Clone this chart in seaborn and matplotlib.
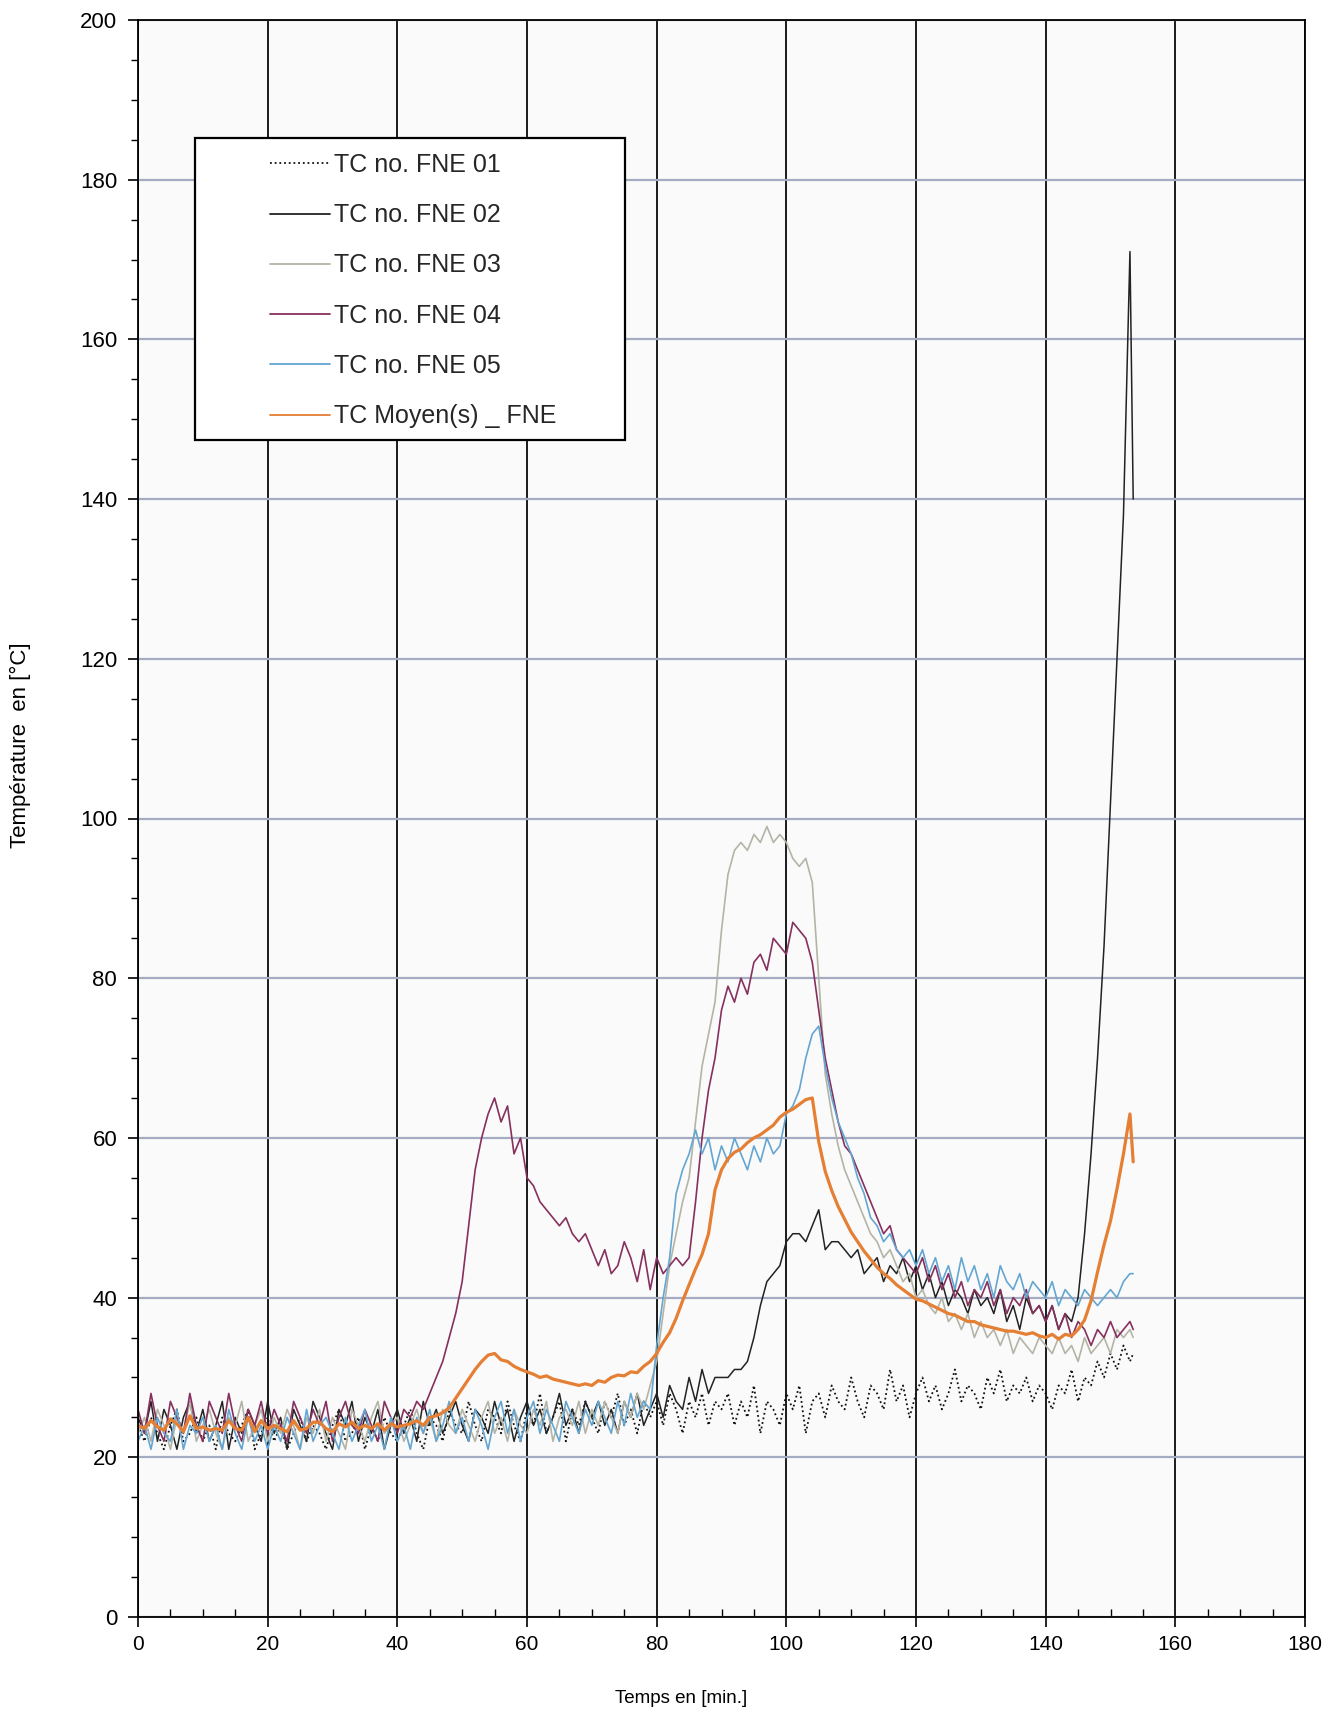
import numpy as np
import pandas as pd
import matplotlib
matplotlib.use("Agg")
import matplotlib.pyplot as plt
from matplotlib.patches import Rectangle
from matplotlib import font_manager
import seaborn as sns

# ---------------- data ----------------
time_min = list(range(0, 154)) + [153.5]

tc01 = [24, 22, 25, 23, 21, 24, 26, 22, 23, 25,
        22, 24, 21, 25, 23, 22, 24, 26, 21, 23,
        25, 22, 24, 21, 23, 25, 22, 24, 23, 21,
        24, 26, 22, 23, 25, 21, 24, 22, 25, 23,
        22, 24, 26, 23, 21, 25, 24, 22, 26, 24,
        23, 27, 24, 22, 26, 25, 23, 27, 24, 22,
        26, 24, 28, 23, 25, 27, 22, 26, 24, 27,
        25, 23, 27, 25, 28, 24, 26, 23, 27, 25,
        27, 24, 28, 26, 23, 27, 25, 28, 24, 27,
        26, 28, 24, 27, 25, 29, 23, 27, 26, 24,
        28, 26, 29, 23, 27, 28, 25, 29, 27, 26,
        30, 27, 25, 29, 28, 26, 31, 27, 29, 25,
        28, 30, 27, 29, 26, 28, 31, 27, 29, 28,
        26, 30, 28, 31, 27, 29, 28, 30, 27, 29,
        28, 26, 29, 28, 31, 27, 30, 29, 32, 30,
        33, 31, 34, 32, 33]

tc02 = [25, 23, 27, 22, 26, 24, 21, 25, 27, 23,
        26, 22, 24, 27, 21, 25, 23, 26, 24, 22,
        27, 23, 25, 21, 26, 24, 22, 27, 25, 23,
        21, 26, 24, 27, 22, 25, 23, 26, 21, 24,
        26, 23, 25, 22, 27, 24, 26, 23, 25, 27,
        24, 22, 26, 25, 23, 27, 24, 26, 22, 25,
        27, 24, 26, 23, 25, 28, 24, 26, 23, 27,
        25, 27, 24, 26, 23, 27, 25, 28, 24, 26,
        28, 25, 29, 27, 26, 30, 27, 31, 28, 30,
        30, 30, 31, 31, 32, 35, 39, 42, 43, 44,
        47, 48, 48, 47, 49, 51, 46, 47, 47, 46,
        45, 46, 43, 44, 45, 42, 44, 43, 45, 42,
        44, 41, 43, 40, 42, 39, 41, 40, 38, 41,
        39, 40, 38, 41, 37, 39, 36, 40, 38, 39,
        37, 39, 36, 38, 37, 40, 48, 58, 70, 84,
        102, 120, 138, 171, 140]

tc03 = [23, 25, 22, 26, 24, 21, 25, 23, 27, 22,
        24, 26, 23, 21, 25, 24, 27, 22, 24, 26,
        22, 25, 23, 26, 24, 21, 25, 23, 26, 22,
        25, 23, 21, 26, 24, 22, 25, 27, 23, 24,
        25, 22, 24, 26, 23, 25, 22, 26, 24, 23,
        26, 24, 22, 25, 27, 23, 25, 22, 26, 24,
        23, 26, 24, 27, 22, 25, 26, 24, 27, 23,
        26, 24, 27, 25, 23, 27, 25, 28, 26, 29,
        32, 38, 44, 48, 52, 55, 62, 69, 73, 77,
        86, 93, 96, 97, 96, 98, 97, 99, 97, 98,
        97, 95, 94, 95, 92, 80, 68, 63, 59, 56,
        54, 52, 50, 48, 47, 45, 46, 44, 42, 43,
        40, 41, 39, 38, 40, 37, 38, 36, 38, 35,
        37, 35, 36, 34, 36, 33, 35, 34, 33, 35,
        34, 33, 35, 33, 34, 32, 35, 33, 34, 35,
        33, 36, 35, 36, 35]

tc04 = [26, 23, 28, 24, 22, 27, 25, 23, 28, 24,
        22, 27, 25, 23, 28, 24, 22, 26, 24, 27,
        23, 26, 24, 22, 27, 25, 23, 26, 24, 27,
        22, 25, 27, 24, 23, 26, 24, 22, 27, 25,
        23, 26, 25, 27, 26, 28, 30, 32, 35, 38,
        42, 49, 56, 60, 63, 65, 62, 64, 58, 60,
        55, 54, 52, 51, 50, 49, 50, 48, 47, 48,
        46, 44, 46, 43, 44, 47, 45, 42, 46, 41,
        45, 43, 44, 45, 44, 45, 52, 60, 66, 70,
        76, 79, 77, 80, 78, 82, 83, 81, 85, 84,
        83, 87, 86, 85, 82, 76, 70, 66, 62, 59,
        58, 56, 54, 52, 50, 48, 49, 46, 45, 44,
        43, 45, 42, 44, 41, 43, 40, 42, 39, 41,
        40, 42, 39, 41, 38, 40, 39, 41, 38, 39,
        37, 39, 36, 38, 35, 37, 36, 34, 36, 35,
        37, 35, 36, 37, 36]

tc05 = [22, 24, 21, 25, 23, 22, 26, 21, 24, 23,
        25, 22, 24, 21, 26, 23, 21, 25, 22, 24,
        21, 24, 22, 25, 23, 21, 26, 22, 24, 25,
        23, 21, 25, 22, 24, 26, 22, 24, 21, 25,
        22, 24, 21, 25, 23, 26, 22, 24, 27, 23,
        25, 22, 26, 24, 21, 25, 27, 23, 26, 22,
        25, 27, 23, 26, 24, 22, 27, 25, 23, 26,
        24, 27, 25, 23, 27, 24, 28, 25, 27, 26,
        34, 40, 45, 53, 56, 58, 61, 58, 60, 56,
        59, 57, 60, 58, 56, 59, 57, 60, 58, 59,
        63, 64, 66, 70, 73, 74, 69, 65, 62, 60,
        58, 55, 53, 50, 49, 47, 48, 46, 45, 46,
        44, 46, 43, 45, 42, 44, 41, 45, 42, 44,
        41, 43, 40, 44, 42, 41, 43, 40, 42, 41,
        40, 42, 39, 41, 40, 39, 41, 40, 39, 40,
        41, 40, 42, 43, 43]

tc_mean = [24.0, 23.6, 24.6, 23.8, 23.4, 24.8, 24.2, 23.2, 25.2, 23.6,
           23.8, 23.4, 23.6, 23.4, 24.6, 23.6, 23.4, 25.0, 23.2, 24.6,
           23.6, 24.0, 23.6, 23.2, 24.6, 23.4, 23.6, 24.4, 24.4, 23.6,
           23.2, 24.2, 23.8, 24.4, 23.6, 24.0, 23.6, 24.2, 23.4, 24.2,
           23.8, 24.0, 24.2, 24.6, 24.0, 25.0, 25.2, 25.6, 26.2, 27.4,
           28.6, 29.8, 31.0, 32.0, 32.8, 33.0, 32.2, 32.0, 31.4, 31.0,
           30.7, 30.4, 30.0, 30.2, 29.8, 29.6, 29.4, 29.2, 29.0, 29.2,
           29.0, 29.6, 29.4, 30.0, 30.3, 30.2, 30.7, 30.6, 31.4, 32.0,
           33.0, 34.4, 35.6, 37.4, 39.6, 41.6, 43.6, 45.4, 48.0, 53.5,
           56.0, 57.4, 58.2, 58.6, 59.4, 60.0, 60.4, 61.0, 61.6, 62.6,
           63.2, 63.6, 64.2, 64.8, 65.0, 59.5, 55.8, 53.4, 51.4, 49.8,
           48.2, 47.0, 45.8, 44.8, 43.8, 43.0, 42.4, 41.6, 41.0, 40.4,
           39.8, 39.6, 39.2, 38.8, 38.4, 38.0, 37.8, 37.4, 37.0, 37.0,
           36.6, 36.4, 36.2, 36.0, 35.8, 35.8, 35.6, 35.4, 35.6, 35.2,
           35.0, 35.4, 34.8, 35.4, 35.2, 36.0, 37.2, 39.6, 43.2, 46.6,
           49.6, 53.6, 58.0, 63.0, 57.0]

labels = ["TC no. FNE 01", "TC no. FNE 02", "TC no. FNE 03",
          "TC no. FNE 04", "TC no. FNE 05", "TC Moyen(s) _ FNE"]
x_ticks = list(range(0, 181, 20))
y_ticks = list(range(0, 201, 20))

# ---------------- style ----------------
sns.set_theme(style="white")
plt.rcParams["font.family"] = ["Liberation Sans", "DejaVu Sans"]

installed = {f.name for f in font_manager.fontManager.ttflist}
has_narrow = "Liberation Sans Narrow" in installed
narrow = ["Liberation Sans Narrow", "Liberation Sans", "DejaVu Sans"] if has_narrow \
    else ["Liberation Sans", "DejaVu Sans"]
xtick_size = 17 if has_narrow else 15
xlabel_size = 16 if has_narrow else 13.5

fig = plt.figure(figsize=(13.42, 17.16), dpi=100)
ax = fig.add_axes([138 / 1342, 1 - 1617 / 1716, (1305 - 138) / 1342, (1617 - 20) / 1716])
ax.set_facecolor("#fafafa")

series = [tc01, tc02, tc03, tc04, tc05, tc_mean]
styles = [
    dict(color="#111111", lw=1.3, ls=(0, (1, 1.6))),
    dict(color="#222222", lw=1.1, ls="-"),
    dict(color="#b4b4a6", lw=1.2, ls="-"),
    dict(color="#86305e", lw=1.2, ls="-"),
    dict(color="#64a6d2", lw=1.2, ls="-"),
    dict(color="#e47f34", lw=2.3, ls="-"),
]

for vals, lab, st in zip(series, labels, styles):
    df = pd.DataFrame({"t": time_min, "T": vals})
    sns.lineplot(data=df, x="t", y="T", ax=ax, color=st["color"], linewidth=st["lw"],
                 linestyle=st["ls"], label=lab, sort=False, estimator=None, legend=False)

ax.set_xlim(0, 180)
ax.set_ylim(0, 200)
ax.set_xticks(x_ticks)
ax.set_yticks(y_ticks)
ax.set_xticks(np.arange(0, 181, 5), minor=True)
ax.set_yticks(np.arange(0, 201, 5), minor=True)

ax.set_axisbelow(True)
ax.xaxis.grid(True, which="major", color="#1a1a1a", lw=1.4)
ax.yaxis.grid(True, which="major", color="#a4abc2", lw=1.6)

for sp in ax.spines.values():
    sp.set_color("black")
    sp.set_linewidth(1.3)
    sp.set_visible(True)

ax.tick_params(axis="x", which="major", direction="out", length=7, width=1.2,
               pad=6, colors="black")
ax.tick_params(axis="x", which="minor", direction="in", length=6, width=1.0, colors="black")
ax.tick_params(axis="y", which="major", direction="out", length=7, width=1.2,
               labelsize=16, pad=8, colors="black")
ax.tick_params(axis="y", which="minor", direction="out", length=5, width=1.0, colors="black")
ax.tick_params(bottom=True, left=True, which="both")
for lbl in ax.get_xticklabels():
    lbl.set_family(narrow)
    lbl.set_fontsize(xtick_size)

ax.set_xlabel("Temps en [min.]", fontsize=xlabel_size, color="black", family=narrow)
ax.set_ylabel("Température  en [°C]", fontsize=16, color="black")
ax.xaxis.set_label_coords((681 - 138) / 1167, (1617 - 1690) / 1597)
ax.yaxis.set_label_coords((31 - 138) / 1167, (1617 - 745) / 1597)

# legend box
fig.patches.append(Rectangle((195 / 1342, 1 - 440 / 1716), (625 - 195) / 1342, (440 - 138) / 1716,
                             transform=fig.transFigure, facecolor="white", edgecolor="black",
                             lw=1.6, zorder=5))
handles, labs = ax.get_legend_handles_labels()
leg = fig.legend(handles, labs, loc="upper left", bbox_to_anchor=(270 / 1342, 1 - 153 / 1716),
                 frameon=False, fontsize=18, handlelength=2.4, handletextpad=0.15,
                 labelspacing=1.05, borderpad=0, borderaxespad=0)
leg.set_zorder(6)
for line in leg.get_lines():
    line.set_linewidth(1.3)

fig.savefig("out.png", dpi=100)
